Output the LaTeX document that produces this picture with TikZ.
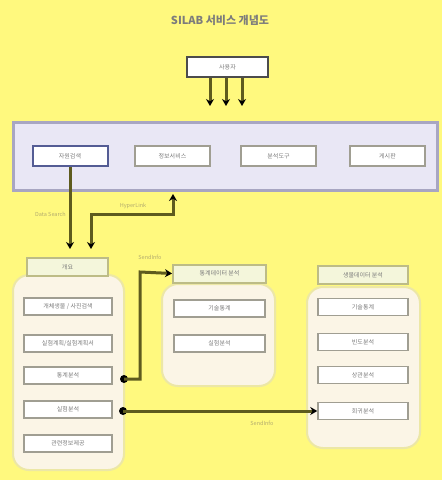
\documentclass[tikz,border=0pt]{standalone}
\usepackage{fontspec}
\setmainfont{Noto Sans CJK KR}
\usetikzlibrary{arrows.meta,calc}
\definecolor{bgyellow}{HTML}{FFF97E}
\definecolor{lavfill}{HTML}{E9E7F5}
\definecolor{lavline}{HTML}{A8A6C2}
\definecolor{bluebox}{HTML}{545C94}
\definecolor{grayline}{HTML}{A09E92}
\definecolor{cream}{HTML}{FBF5E6}
\definecolor{creamline}{HTML}{ECE7A6}
\definecolor{titlefill}{HTML}{F4F6DB}
\definecolor{titleline}{HTML}{BDBC86}
\definecolor{olive}{HTML}{5E5B1E}
\definecolor{txtgray}{HTML}{7C7C7C}
\definecolor{lbl}{HTML}{B3AC6E}
\tikzset{
  itembox/.style={draw=grayline,line width=1.5pt,fill=white,minimum width=88pt,minimum height=17pt,inner sep=0pt,font=\fontsize{6}{7}\selectfont,text=txtgray},
  menubox/.style={draw=grayline,line width=1.5pt,fill=white,minimum width=75pt,minimum height=20pt,inner sep=0pt,font=\fontsize{6}{7}\selectfont,text=txtgray},
  titlebox/.style={draw=titleline,line width=2pt,fill=titlefill,minimum height=18pt,inner sep=0pt,font=\fontsize{6}{7}\selectfont,text=txtgray},
  panel/.style={draw=creamline,line width=2pt,fill=cream,rounded corners=16pt},
  conn/.style={draw=olive,line width=3pt,-{Stealth[length=7pt,width=8pt,black]}},
  conn2/.style={draw=olive,line width=3pt,{Stealth[length=7pt,width=8pt,black]}-{Stealth[length=7pt,width=8pt,black]}},
  lbltxt/.style={font=\fontsize{5.5}{6.5}\selectfont,text=lbl,inner sep=1pt},
  dot/.style={circle,fill=black,minimum size=8pt,inner sep=0pt}
}
\begin{document}
\begin{tikzpicture}[x=1pt,y=-1pt]
\fill[bgyellow] (0,0) rectangle (442,480);
\useasboundingbox (0,0) rectangle (442,480);

% title
\node[font=\fontsize{11}{13}\selectfont\bfseries,text=txtgray] (title) at (220,20) {SILAB 서비스 개념도};

% user
\node[draw=black!70,line width=1.5pt,fill=white,minimum width=81pt,minimum height=20pt,inner sep=0pt,font=\fontsize{6}{7}\selectfont,text=txtgray] (user) at (227.5,67) {사용자};

% big lavender box
\node[draw=lavline,line width=3pt,fill=lavfill,minimum width=424pt,minimum height=68pt,inner sep=0pt] (portal) at (225.5,156) {};
\coordinate (ua) at (210,106);
\coordinate (ub) at (226,106);
\coordinate (uc) at (242,106);
\draw[conn] (user.south -| ua) -- (ua);
\draw[conn] (user.south -| ub) -- (ub);
\draw[conn] (user.south -| uc) -- (uc);

\node[menubox,draw=bluebox,line width=2pt] (m1) at (70,156) {자원검색};
\node[menubox] (m2) at (172.5,156) {정보서비스};
\node[menubox] (m3) at (278.5,156) {분석도구};
\node[menubox] (m4) at (387.5,156) {게시판};

% left panel
\draw[panel] (13,275) rectangle (124,470);
\node[titlebox,minimum width=81pt] (lt) at (67.5,267) {개요};
\node[itembox] (l1) at (68,306.5) {개체생물 / 사진검색};
\node[itembox] (l2) at (68,343.5) {실험계획/실험계획서};
\node[itembox] (l3) at (68,375.5) {통계분석};
\node[itembox] (l4) at (68,409.5) {실험분석};
\node[itembox] (l5) at (68,443.5) {관련정보제공};

% middle panel
\draw[panel] (162,284) rectangle (275,386);
\node[titlebox,minimum width=93pt] (mt) at (219.5,273.5) {통계데이터 분석};
\node[itembox,minimum width=91pt] (c1) at (219.5,308.5) {기술통계};
\node[itembox,minimum width=91pt] (c2) at (219.5,343.5) {실험분석};

% right panel
\draw[panel] (307,287) rectangle (420,448);
\node[titlebox,minimum width=90pt] (rt) at (363,275) {생물데이터 분석};
\node[itembox,minimum width=90pt] (r1) at (363,307) {기술통계};
\node[itembox,minimum width=90pt] (r2) at (363,342) {빈도분석};
\node[itembox,minimum width=90pt] (r3) at (363,375) {상관분석};
\node[itembox,minimum width=90pt] (r4) at (363,411) {회귀분석};

% connectors
\coordinate (ds) at (70,249);
\draw[conn] (m1.south) -- (ds);
\node[lbltxt,anchor=east] (dsl) at (67,214) {Data Search};

\coordinate (hl1) at (91,249);
\coordinate (hl2) at (173,194);
\draw[conn2] (hl1) |- (173,214) -- (hl2);
\node[lbltxt] (hll) at (133,206) {HyperLink};

\node[dot] (d1) at (124,379) {};
\draw[conn] (d1.center) -| (140,272) -- (mt.west);
\node[lbltxt] (s1) at (150,257) {SendInfo};

\node[dot] (d2) at (123,411) {};
\draw[conn] (d2.center) -- (r4.west);
\node[lbltxt] (s2) at (262,423) {SendInfo};
\end{tikzpicture}
\end{document}
